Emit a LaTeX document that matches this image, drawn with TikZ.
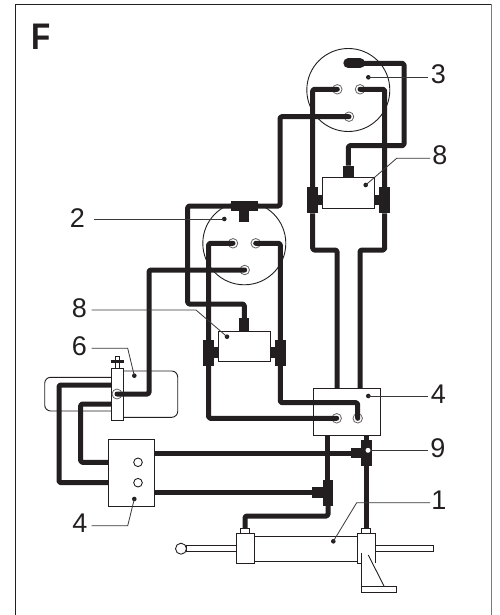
\documentclass[tikz,border=0pt]{standalone}
\usepackage{fontspec}
\setmainfont{Liberation Sans}
\definecolor{ink}{HTML}{231F20}
\definecolor{lead}{HTML}{3A3839}
\tikzset{
  pipe/.style={draw=ink,line width=5pt,line join=round,rounded corners=1.5pt},
  portpipe/.style={pipe,line cap=round},
  stub/.style={draw=ink,line width=10.8pt},
  solid block/.style 2 args={fill=ink,draw=none,inner sep=0pt,outer sep=0pt,minimum width=#1pt,minimum height=#2pt},
  box/.style 2 args={fill=white,draw=ink,line width=0.9pt,inner sep=0pt,outer sep=0pt,minimum width=#1pt,minimum height=#2pt},
  disc/.style={circle,draw=ink,line width=0.9pt,fill=white,inner sep=0pt,outer sep=0pt,minimum size=83pt},
  portn/.style={circle,draw=ink!70,line width=0.8pt,fill=white,inner sep=0pt,outer sep=0pt,minimum size=9.5pt},
  outline/.style={draw=ink,line width=0.9pt,fill=white},
  leader/.style={draw=lead,line width=0.8pt},
  tip/.style={circle,fill=ink,inner sep=0pt,minimum size=4.6pt},
  num/.style={inner sep=0pt,text=ink,font=\fontsize{27}{27}\selectfont},
}
\begin{document}
\begin{tikzpicture}[x=1pt,y=-1pt]
\useasboundingbox (0,0) rectangle (499,615);
\fill[white] (0,0) rectangle (499,615);
% frame
\draw[ink,line width=1pt] (15.5,615) -- (15.5,4.5) -- (491.5,4.5);
\draw[ink!60,line width=1.2pt] (491.5,4.5) -- (491.5,615);
\node[text=ink,inner sep=0pt,xscale=0.85,font=\bfseries\fontsize{37}{37}\selectfont] (lF) at (41.5,36.5) {F};
% discs
\node[disc] (d3) at (348.3,90) {};
\node[disc] (d2) at (244.3,243.3) {};
% valve 6 housing
\draw[outline,rounded corners=6pt] (111.3,377.3) -- (44.7,377.3) -- (44.7,411) -- (111.3,411);
\draw[outline,rounded corners=6pt] (123.7,371) -- (177.7,371) -- (177.7,417.3) -- (123.7,417.3);
\node[box={12.4}{52.4}] (v6) at (117.5,394.5) {};
\node[box={4}{12}] (v6stem) at (117.3,362.5) {};
\draw[ink,line width=2.4pt] (110.7,361.3) -- (124,361.3);
% boxes
\node[box={51.6}{31}] (b8u) at (348.5,193.2) {};
\node[box={51.6}{30.7}] (b8l) at (244.5,346.35) {};
\node[box={67}{46.7}] (b4r) at (347.2,411.65) {};
\node[box={46.3}{67}] (b4l) at (131.15,472.5) {};
\node[circle,draw=ink,line width=0.9pt,fill=white,inner sep=0pt,minimum size=8.6pt] (h1) at (138,462.3) {};
\node[circle,draw=ink,line width=0.9pt,fill=white,inner sep=0pt,minimum size=8.6pt] (h2) at (138,482.7) {};
% cylinder
\draw[ink,line width=0.9pt,fill=white] (186,545.7) rectangle (236.7,551.7);
\draw[ink,line width=0.9pt,fill=white] (375,545.7) rectangle (433.3,551.7);
\node[circle,draw=ink,line width=0.9pt,fill=white,inner sep=0pt,minimum size=11pt] (ball) at (181,548.7) {};
\draw[ink,line width=0.9pt,fill=white] (254,536) rectangle (357.3,561);
\node[box={17.3}{30}] (cl) at (245.35,548.3) {};
\draw[ink,line width=0.9pt,fill=white] (361.7,563.3) -- (357.3,563.3) -- (357.3,533.3) -- (375,533.3) -- (375,563.3);
\node[box={8.6}{5.3}] (pl) at (245,530.7) {};
\node[box={8.6}{5.3}] (pr) at (366,530.7) {};
\draw[ink,line width=0.9pt] (361.7,553.3) -- (361.7,586.7);
\draw[ink,line width=0.9pt] (368.3,555) -- (384.3,586.7);
\node[box={35}{5.3}] (foot) at (379.2,589.4) {};
% ports
\node[portn] (u1) at (337.3,89.3) {};
\node[portn] (u2) at (360,89.3) {};
\node[portn] (u3) at (349,116.7) {};
\node[portn] (l1) at (233,243.3) {};
\node[portn] (l2) at (255.7,243.3) {};
\node[portn] (l3) at (244.7,270) {};
\node[portn] (r1) at (336.7,418.3) {};
\node[portn] (r2) at (357.7,418.3) {};
\node[portn,minimum size=10pt] (v0) at (117,394) {};
% solid fittings
\node[solid block={10.7}{26.7}] (tUL) at (312.7,200) {};
\node[solid block={10.7}{26.7}] (tUR) at (384.7,200) {};
\node[solid block={10.7}{25.7}] (tLL) at (208.6,352.85) {};
\node[solid block={10.7}{25.7}] (tLR) at (280.3,352.85) {};
\node[solid block={10.5}{12}] (plugU) at (348.3,171.7) {};
\node[solid block={10}{13.4}] (plugL) at (244.3,325) {};
\node[solid block={26.7}{10}] (teeT) at (244.3,206) {};
\node[solid block={10}{13}] (teeS) at (244.3,215.8) {};
\node[solid block={10.7}{26}] (t9v) at (366.7,453) {};
\node[solid block={10.6}{10.6}] (t9h) at (356,453) {};
\node[solid block={10.6}{26}] (tBv) at (328,493) {};
\node[solid block={10.6}{10.6}] (tBh) at (317.7,492.7) {};
% stubs between fittings and boxes
\draw[stub] (tUL.east) -- (tUL.east -| b8u.west);
\draw[stub] (tUR.west) -- (tUR.west -| b8u.east);
\draw[stub] (tLL.east) -- (tLL.east -| b8l.west);
\draw[stub] (tLR.west) -- (tLR.west -| b8l.east);
% pipes of steering head 3
\draw[draw=ink,line width=10pt,line cap=round] (348.3,63.3) -- (360,63.3);
\coordinate (pillR) at (360,63.3);
\coordinate (b3) at (404,145.7);
\draw[pipe] (pillR) -| (b3) -| (plugU.north);
\draw[portpipe] (u1.center) -| (tUL.north);
\draw[portpipe] (u2.center) -| (tUR.north);
\coordinate (x1) at (280,116.7);
\draw[portpipe] (u3.center) -- (x1) |- (teeT.east);
% pipes of steering head 2
\coordinate (x2) at (187.7,206);
\coordinate (x3) at (187.7,304);
\draw[pipe] (teeT.west) -- (x2) -- (x3) -| (plugL.north);
\draw[portpipe] (l1.center) -| (tLL.north);
\draw[portpipe] (l2.center) -| (tLR.north);
\coordinate (x4) at (149,270);
\draw[portpipe] (l3.center) -- (x4) |- (v0.center);
% to manifold 4
\coordinate (x5) at (337,250);
\coordinate (x6) at (360,250);
\draw[pipe] (tUL.south) |- (x5) -- (x5 |- b4r.north);
\draw[pipe] (tUR.south) |- (x6) -- (x6 |- b4r.north);
\draw[portpipe] (tLL.south) |- (r1.center);
\coordinate (x7) at (280.3,402.7);
\draw[portpipe] (tLR.south) -- (x7) -| (r2.center);
% valve to lower manifold
\coordinate (x8) at (59,385);
\coordinate (x9) at (80.7,404);
\draw[pipe] (v6.west |- x8) -- (x8) |- (b4l.west |- h2);
\draw[pipe] (v6.west |- x9) -- (x9) |- (b4l.west |- h1);
% manifold to cylinder
\draw[pipe] (b4r.south -| tBv) ++(-0.7,0) -- (tBv.north -| 327.3,0);
\draw[pipe] (b4r.south -| t9v) ++(-0.7,0) -- (t9v.north -| 366,0);
\draw[pipe] (b4l.east |- t9h) -- (t9h.west);
\draw[pipe] (b4l.east |- tBh) -- (tBh.west);
\coordinate (x10) at (328,516);
\draw[pipe] (tBv.south) -- (x10) -| (pl.north);
\draw[pipe] (t9v.south -| pr) -- (pr.north);
% leaders and labels
\node[tip] (n3) at (368.3,77.3) {};
\node[num] (a3) at (438.5,74.5) {3};
\draw[leader] (n3.center) -- (428.3,77.3);
\node[tip] (n8u) at (365.7,185) {};
\node[num] (a8u) at (440,155.3) {8};
\coordinate (k1) at (396.7,158.3);
\draw[leader] (n8u.center) -- (k1) -- (430,158.3);
\node[num] (a2) at (77.3,218.3) {2};
\node[tip] (n2) at (224.3,219) {};
\draw[leader] (94,219) -- (n2.center);
\node[num] (a8l) at (79.3,308.3) {8};
\node[tip] (n8l) at (227,336.7) {};
\coordinate (k2) at (196,310);
\draw[leader] (91.7,310) -- (k2) -- (n8l.center);
\node[num] (a6) at (79.3,346.7) {6};
\node[tip] (n6) at (134.3,375.7) {};
\coordinate (k3) at (127.7,348.3);
\draw[leader] (91.7,348.3) -- (k3) -- (n6.center);
\node[num] (a4l) at (80,523.3) {4};
\node[tip] (n4l) at (134.3,499) {};
\coordinate (k4) at (127.7,525.7);
\draw[leader] (91.7,525.7) -- (k4) -- (n4l.center);
\node[num] (a4r) at (438.3,394.3) {4};
\node[tip] (n4r) at (368.3,396) {};
\draw[leader] (n4r.center) -- (428.3,396);
\node[num] (a9) at (438,448.3) {9};
\node[circle,fill=white,inner sep=0pt,minimum size=5pt] (n9) at (368,450.3) {};
\draw[leader] (n9.east) -- (428.3,450.3);
\node[num] (a1) at (439,500) {1};
\node[tip] (n1) at (333.3,541.3) {};
\coordinate (k5) at (356.7,502.7);
\draw[leader] (430,502.7) -- (k5) -- (n1.center);
\end{tikzpicture}
\end{document}
